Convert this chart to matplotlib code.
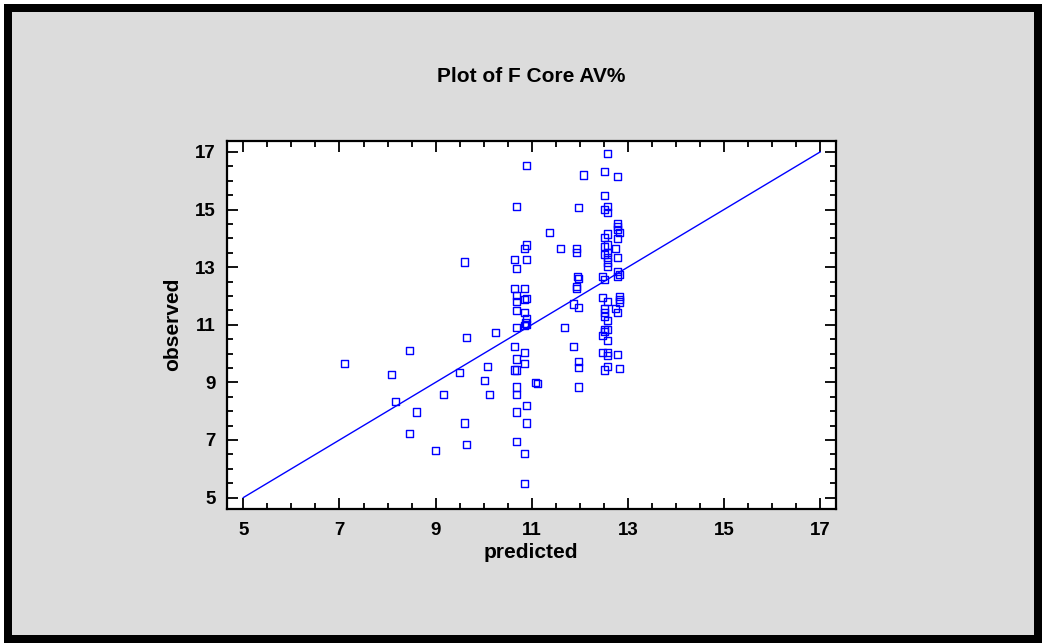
import matplotlib
matplotlib.use("Agg")
import matplotlib.pyplot as plt
from matplotlib.patches import Rectangle
from matplotlib.ticker import MultipleLocator

plt.rcParams['font.family'] = ['Liberation Sans', 'DejaVu Sans']

predicted = [
    7.11, 8.09, 8.46, 8.16, 8.60, 8.46, 9.00, 9.17, 9.50, 9.64, 9.61, 9.64, 9.61,
    10.01, 10.08, 10.12, 10.24,
    10.69, 10.65, 10.69, 10.65, 10.69, 10.69, 10.69, 10.69, 10.65, 10.69, 10.65,
    10.69, 10.69, 10.69, 10.69, 10.69,
    10.89, 10.89, 10.85, 10.89, 10.85, 10.89, 10.85, 10.85, 10.89, 10.87, 10.85,
    10.89, 10.85, 10.85, 10.89, 10.89, 10.85, 10.85, 11.07, 11.12,
    11.37, 11.60, 11.69, 11.87, 11.87, 11.94, 11.94, 11.95, 11.97, 11.94, 11.94,
    11.97, 11.97, 11.97, 11.97, 11.97, 12.07,
    12.57, 12.51, 12.78, 12.51, 12.57, 12.51, 12.57, 12.78, 12.78, 12.78, 12.82,
    12.57, 12.51, 12.78, 12.57, 12.51, 12.75, 12.57, 12.51, 12.57, 12.78, 12.57,
    12.57, 12.47, 12.51, 12.78, 12.82, 12.78, 12.47, 12.57, 12.82, 12.82, 12.82,
    12.51, 12.51, 12.51, 12.75, 12.78, 12.57, 12.51, 12.57, 12.51, 12.47, 12.57,
    12.47, 12.57, 12.57, 12.78, 12.57, 12.51, 12.82,
]
observed = [
    9.65, 9.28, 10.09, 8.34, 7.97, 7.21, 6.62, 8.57, 9.33, 10.57, 7.59, 6.83, 13.18,
    9.06, 9.54, 8.57, 10.74,
    15.12, 13.28, 12.96, 12.25, 12.03, 11.81, 11.49, 10.91, 10.25, 9.81, 9.43,
    9.43, 8.84, 8.57, 7.97, 6.94,
    16.53, 13.77, 13.66, 13.28, 12.25, 11.92, 11.88, 11.41, 11.21, 11.06, 10.97,
    11.00, 10.03, 9.65, 8.19, 7.59, 6.52, 5.49, 9.00, 8.97,
    14.21, 13.66, 10.92, 11.72, 10.25, 13.66, 13.50, 12.67, 12.60, 12.34, 12.25,
    11.60, 15.06, 9.73, 9.53, 8.84, 16.20,
    16.96, 16.31, 16.15, 15.50, 15.12, 15.01, 14.90, 14.53, 14.42, 14.31, 14.21,
    14.15, 14.03, 13.98, 13.77, 13.71, 13.66, 13.50, 13.44, 13.34, 13.34, 13.18,
    13.01, 12.69, 12.58, 12.85, 12.73, 12.69, 11.94, 11.82, 11.97, 11.88, 11.79,
    11.56, 11.44, 11.28, 11.55, 11.44, 11.16, 10.84, 10.84, 10.76, 10.63, 10.46,
    10.03, 10.03, 9.92, 9.97, 9.54, 9.43, 9.49,
]
fit_line = [5, 17]
ticks = [5, 7, 9, 11, 13, 15, 17]

W, H = 1046, 643
fig = plt.figure(figsize=(W / 100, H / 100), dpi=100, facecolor='white')

# black frame with grey panel inside (pixel coords, origin top-left)
def px_rect(x0, y0, x1, y1, color):
    fig.patches.append(Rectangle((x0 / W, 1 - y1 / H), (x1 - x0) / W, (y1 - y0) / H,
                                 transform=fig.transFigure, facecolor=color,
                                 edgecolor='none', zorder=-10))

px_rect(4, 4, 1042, 643, 'black')
px_rect(12, 12, 1034, 635, '#dcdcdc')

ax = fig.add_axes([227 / W, 1 - 508.5 / H, 609 / W, 367.5 / H])
ax.set_facecolor('white')

ax.plot(fit_line, fit_line, color='#0000ff', lw=1.0, zorder=2)
ax.scatter(predicted, observed, marker='s', s=26, facecolors='none',
           edgecolors='#0000ff', linewidths=1.0, zorder=3)

ax.set_xlim(4.66, 17.33)
ax.set_ylim(4.62, 17.38)
ax.set_xticks(ticks)
ax.set_yticks(ticks)
ax.xaxis.set_minor_locator(MultipleLocator(0.5))
ax.yaxis.set_minor_locator(MultipleLocator(0.5))
ax.tick_params(which='both', direction='in', top=True, right=True, width=1.3, color='black')
ax.tick_params(which='major', length=8)
ax.tick_params(which='minor', length=4)
ax.tick_params(axis='x', which='major', pad=10)
ax.tick_params(axis='y', which='major', pad=8)
for lab in ax.get_xticklabels() + ax.get_yticklabels():
    lab.set_fontweight('bold')
    lab.set_fontsize(13.5)
for sp in ax.spines.values():
    sp.set_linewidth(1.6)

fig.text(531 / W, 1 - 77 / H, 'Plot of F Core AV%', ha='center', va='center',
         fontsize=15, fontweight='bold')
fig.text(531 / W, 1 - 553 / H, 'predicted', ha='center', va='center',
         fontsize=15, fontweight='bold')
fig.text(173 / W, 1 - 324 / H, 'observed', ha='center', va='center',
         rotation=90, fontsize=15, fontweight='bold')

fig.savefig('out.png', dpi=100)
